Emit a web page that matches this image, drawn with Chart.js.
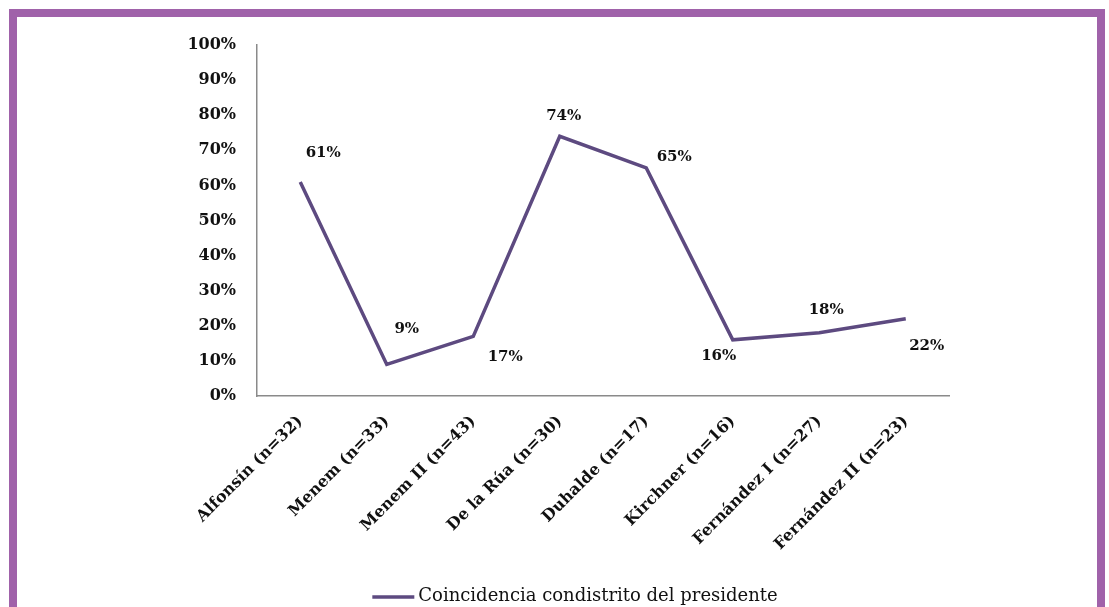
<!DOCTYPE html>
<html>
<head>
<meta charset="utf-8">
<script src="https://cdn.jsdelivr.net/npm/chart.js@4.4.1/dist/chart.umd.min.js"></script>
<style>
  html, body { margin: 0; padding: 0; background: #fff; overflow: hidden; }
  #frame {
    position: absolute; left: 9px; top: 9px; width: 1080px; height: 700px;
    border: 8px solid #a062aa; pointer-events: none;
  }
  #myChart { position: absolute; left: 0; top: 0; }
</style>
</head>
<body>
<canvas id="myChart" width="1109" height="607"></canvas>
<div id="frame"></div>
<script>
const presidents = ['Alfonsín (n=32)', 'Menem (n=33)', 'Menem II (n=43)', 'De la Rúa (n=30)',
    'Duhalde (n=17)', 'Kirchner (n=16)', 'Fernández I (n=27)', 'Fernández II (n=23)'];
const coincidence = [61, 9, 17, 74, 65, 16, 18, 22];
const yTicks = [0, 10, 20, 30, 40, 50, 60, 70, 80, 90, 100];
const seriesName = 'Coincidencia condistrito del presidente';

// where each value label sits relative to its point (dx, dy)
const labelOffsets = [[23, -29], [20, -35], [32, 21], [4, -20], [28, -11], [-14, 16], [7, -23], [21, 27]];

const purple = '#5d4a80';
const serif = '"DejaVu Serif", "Liberation Serif", serif';

const valueLabels = {
    id: 'valueLabels',
    afterDatasetsDraw(chart) {
        const ctx = chart.ctx;
        const meta = chart.getDatasetMeta(0);
        ctx.save();
        ctx.font = 'bold 15px ' + serif;
        ctx.fillStyle = '#111';
        ctx.textAlign = 'center';
        ctx.textBaseline = 'middle';
        meta.data.forEach((pt, i) => {
            const off = labelOffsets[i];
            ctx.fillText(coincidence[i] + '%', pt.x + off[0], pt.y + off[1]);
        });
        ctx.restore();
    }
};

// legend drawn by hand so it can sit off-centre like the original
const lineLegend = {
    id: 'lineLegend',
    afterDraw(chart) {
        const ctx = chart.ctx;
        const ds = chart.data.datasets[0];
        const lineLen = 42, gap = 4, centerX = 577, y = 596;
        ctx.save();
        ctx.font = '18px ' + serif;
        const tw = ctx.measureText(ds.label).width;
        const x0 = centerX - (lineLen + gap + tw) / 2 - 2;
        ctx.strokeStyle = ds.borderColor;
        ctx.lineWidth = 3.5;
        ctx.beginPath();
        ctx.moveTo(x0, y + 1);
        ctx.lineTo(x0 + lineLen, y + 1);
        ctx.stroke();
        ctx.fillStyle = '#111';
        ctx.textBaseline = 'middle';
        ctx.fillText(ds.label, x0 + lineLen + gap, y);
        ctx.restore();
    }
};

let ctx = document.getElementById('myChart').getContext('2d');
let myChart = new Chart(ctx, {
    type: 'line',
    data: {
        labels: presidents,
        datasets: [{
            label: seriesName,
            data: coincidence,
            borderColor: purple,
            backgroundColor: purple,
            borderWidth: 3.5,
            pointRadius: 0,
            tension: 0
        }]
    },
    options: {
        responsive: false,
        animation: false,
        layout: { padding: { left: 0, right: 160, top: 45, bottom: 25 } },
        plugins: {
            tooltip: { enabled: false },
            legend: { display: false }
        },
        scales: {
            x: {
                offset: true,
                grid: { display: false, drawTicks: false },
                border: { display: true, color: '#8a8a8a', width: 1.5 },
                ticks: {
                    color: '#111',
                    font: { family: serif, size: 16, weight: 'bold' },
                    maxRotation: 45,
                    minRotation: 45,
                    padding: 16
                },
                afterFit(scale) { scale.height = 186; }
            },
            y: {
                min: 0,
                max: 100,
                afterBuildTicks(scale) { scale.ticks = yTicks.map(v => ({ value: v })); },
                grid: { display: false, drawTicks: false },
                border: { display: true, color: '#8a8a8a', width: 1.5 },
                ticks: {
                    color: '#111',
                    font: { family: serif, size: 16, weight: 'bold' },
                    padding: 21,
                    callback: v => v + '%'
                },
                afterFit(scale) { scale.width = 257; }
            }
        }
    },
    plugins: [valueLabels, lineLegend]
});
</script>
</body>
</html>
